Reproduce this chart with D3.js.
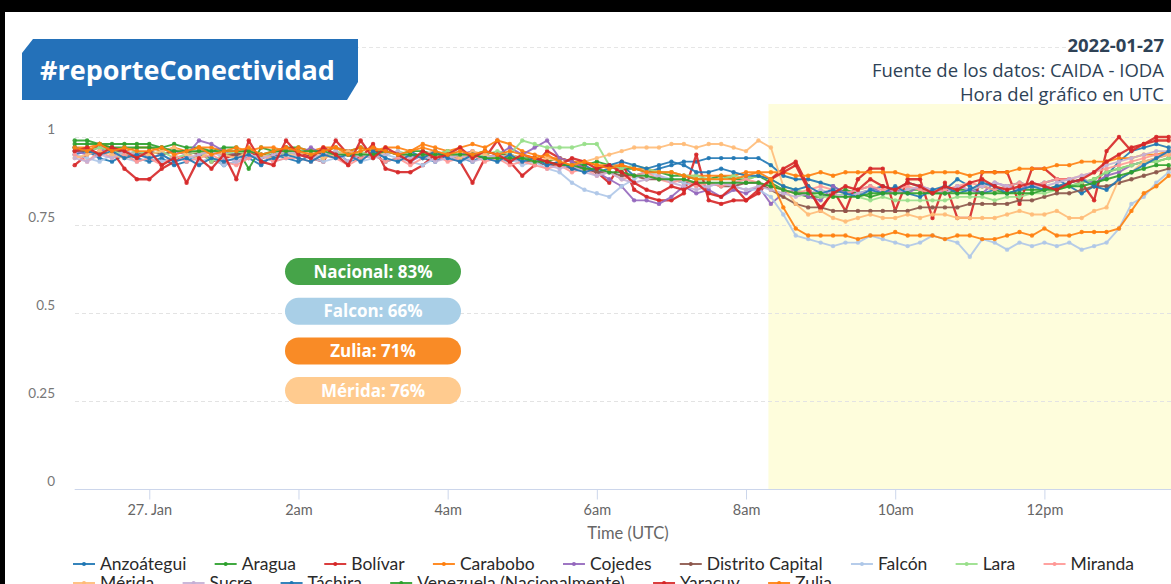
<!DOCTYPE html>
<html><head><meta charset="utf-8">
<script src="https://cdn.jsdelivr.net/npm/d3@7"></script>
<style>html,body{margin:0;padding:0;background:#000;overflow:hidden}</style>
</head><body><svg id="c" width="1171" height="584"></svg>
<script>
// ---------- DATA (values in percent, 10-minute bins from 2022-01-26 23:00 UTC) ----------
const seriesNames = ["Anzoátegui","Aragua","Bolívar","Carabobo","Cojedes","Distrito Capital","Falcón","Lara","Miranda","Mérida","Sucre","Táchira","Venezuela (Nacionalmente)","Yaracuy","Zulia"];
const seriesColors = ["#1f77b4","#2ca02c","#d62728","#ff7f0e","#9467bd","#8c564b","#aec7e8","#98df8a","#ff9896","#ffbb78","#c5b0d5","#1f77b4","#2ca02c","#d62728","#ff7f0e"];

const anzoategui = [95,96,94,93,95,94, 93,94,92,93,95,94,92,93,94,92,95,94, 93,95,94,96,93,94,95,93,94,96,94,93, 95,94,93,95,94,93, 94,93,92,93,91,92,90,91,92,89,90,91, 92,93,93,94,94,94,94,94, 92,89,88,88,87,86,84,84,85,86, 85,87,86,84,85,88,86,84,85,86,87,86, 87,88,86,84,86,89,93,96,97,98,97];
const aragua = [99,99,98,98,98,98, 98,97,98,97,97,96,97,97,91,97,96,97, 97,96,96,97,96,97,96,96,95,96,96,95, 96,95,95,96,95,95, 94,94,93,94,93,92,93,92,91,91,90,90, 89,89,88,88,89,88,88,89, 87,85,84,83,83,84,85,84,83,84, 84,85,85,84,84,85,85,86,85,84,85,85, 85,86,86,87,88,90,91,92,93,93,94];
const bolivar = [92,95,98,96,91,88, 88,91,93,95,96,93,94,95,96,94,95,97, 96,94,93,99,95,94,98,91,90,90,92,95, 95,93,87,94,99,93, 89,92,96,94,93,91,90,87,93,85,83,82, 82,84,95,82,81,82,82,84, 88,91,93,86,79,85,79,88,91,91, 79,88,88,77,87,77,77,90,90,90,81,91, 91,88,88,87,82,96,100,96,98,100,100];
const carabobo = [97,97,98,97,96,97, 97,96,97,96,97,97,96,97,96,97,97,96, 97,96,97,97,96,97,96,97,97,96,98,97, 96,97,98,97,99,98, 96,95,94,94,93,93,92,92,92,91,91,90, 90,89,89,89,89,89,90,90, 90,90,89,89,90,89,90,90,90,90, 90,89,89,90,90,90,89,90,90,90,91,91, 91,92,92,93,93,93,94,94,95,95,96];
const cojedes = [96,95,96,97,95,96, 94,95,96,95,99,98,96,95,94,95,93,96, 95,97,95,94,96,95,94,96,95,93,95,96, 94,95,96,94,95,97, 95,97,99,94,93,91,90,88,86,82,82,81, 83,86,84,85,83,85,84,86, 81,84,85,83,82,86,84,85,86,84, 85,84,86,85,84,86,85,84,87,86,85,87, 86,85,87,88,87,89,90,92,93,94,95];
const distritoCapital = [96,96,97,96,96,95, 96,95,96,96,95,96,95,95,96,95,95,96, 95,96,95,95,96,95,95,96,95,95,94,95, 95,94,95,94,94,94, 93,93,92,92,91,91,90,90,89,89,88,88, 88,87,87,87,86,86,87,87, 85,83,81,80,80,79,79,79,79,79, 79,79,80,80,80,80,81,81,81,81,82,82, 83,84,84,85,86,86,87,88,89,90,91];
const falcon = [95,94,93,95,94,93, 94,93,94,95,93,94,92,93,94,95,93,94, 95,94,93,94,95,93,94,95,94,93,92,94, 95,93,94,95,93,94, 92,93,91,90,87,85,84,83,86,88,90,89, 88,87,86,86,87,86,85,85, 83,78,72,71,70,69,70,70,72,71, 70,69,70,72,71,70,66,71,70,68,70,69, 70,69,70,68,69,70,74,81,83,87,90];
const lara = [97,96,97,96,95,96, 95,96,94,95,96,93,95,96,95,94,96,95, 96,95,94,96,95,96,94,95,96,95,94,95, 96,95,94,95,96,95, 99,98,97,97,97,98,98,92,91,92,91,90, 90,89,89,88,88,89,88,89, 88,86,85,84,83,83,84,83,82,83, 82,82,82,82,82,83,83,83,82,83,83,84, 84,85,86,87,88,90,91,92,93,93,94];
const miranda = [95,93,96,94,95,93, 94,92,95,93,94,95,93,92,94,95,93,94, 94,93,95,94,92,94,95,93,94,92,94,95, 93,94,95,93,94,92, 93,92,91,92,90,91,89,90,88,89,90,88, 87,88,86,87,86,87,88,87, 86,85,84,85,86,85,84,85,86,85, 85,86,85,84,85,86,87,86,85,86,87,86, 87,88,88,89,90,91,92,93,94,95,95];
const merida = [94,95,96,95,94,95, 95,96,97,95,94,96,95,94,96,95,94,95, 95,96,94,95,96,95,94,96,95,94,95,96, 95,94,96,95,94,95, 94,93,94,93,92,93,94,95,96,97,97,97, 98,98,97,98,98,97,96,99, 97,86,81,78,79,77,76,77,78,77, 77,78,77,78,78,77,77,77,77,78,79,78, 78,79,77,77,79,80,88,90,93,94,95];
const sucre = [94,93,95,94,96,95, 94,95,93,94,95,96,94,93,95,94,95,96, 95,94,95,96,93,95,94,95,96,94,95,93, 94,95,93,94,95,94, 93,94,92,91,92,90,89,90,88,87,88,89, 87,86,85,86,87,86,85,86, 85,84,83,84,85,84,83,84,85,84, 84,85,86,85,84,86,85,86,87,86,85,86, 86,87,88,89,90,92,93,94,95,96,96];
const tachira = [97,96,95,96,94,95, 94,95,93,94,92,94,93,94,95,93,94,95, 94,93,95,94,95,93,96,94,93,95,94,96, 94,93,95,94,93,95, 93,94,92,93,91,90,91,92,93,92,91,92, 93,92,90,90,91,90,89,89, 88,86,85,86,84,85,84,83,85,84, 86,84,83,85,86,84,85,87,86,84,85,86, 85,86,87,88,86,85,88,90,92,94,96];
const venezuela = [98,98,98,97,97,97, 97,97,96,96,96,96,96,96,96,95,96,96, 96,96,96,95,95,95,95,96,95,95,95,95, 95,95,95,94,94,94, 94,93,93,92,92,91,91,90,90,89,89,88, 88,88,87,87,87,87,87,87, 86,85,84,84,84,83,83,83,84,84, 84,84,84,84,84,84,84,84,84,84,84,84, 85,85,86,86,87,88,89,90,91,92,92];
const yaracuy = [96,97,95,97,96,94, 96,92,94,87,94,91,95,88,99,93,92,99, 95,94,97,95,92,99,94,97,95,93,96,94, 95,97,94,96,95,93, 95,94,93,92,94,93,91,92,90,87,85,84, 86,85,87,84,83,86,82,85, 88,90,92,85,80,84,86,85,88,86, 85,87,86,84,86,85,87,88,86,85,86,87, 86,85,87,88,90,93,95,97,98,99,99];
const zulia = [97,96,98,96,97,96, 96,97,95,96,97,95,96,96,97,95,96,97, 96,95,96,97,95,96,97,96,95,96,97,96, 95,96,95,96,95,96, 95,94,95,93,92,93,92,91,92,91,90,90, 90,89,88,88,88,88,89,90, 88,80,74,72,72,72,72,71,72,72, 73,72,72,72,71,72,72,71,71,72,73,72, 74,72,72,73,73,73,74,79,84,86,89];

const yTicks = [0, 0.25, 0.5, 0.75, 1];
const yTickLabels = ["0", "0.25", "0.5", "0.75", "1"];
const xTickHours = [0, 2, 4, 6, 8, 10, 12];
const xTickLabels = ["27. Jan", "2am", "4am", "6am", "8am", "10am", "12pm"];
const legendNames = seriesNames;
const pillLabels = ["Nacional: 83%", "Falcon: 66%", "Zulia: 71%", "Mérida: 76%"];
const pillColors = ["#46a449", "#a9cfe7", "#f98b26", "#ffcb8f"];
const headerLines = ["2022-01-27", "Fuente de los datos: CAIDA - IODA", "Hora del gráfico en UTC"];
const titleText = "#reporteConectividad";

const seriesValues = [anzoategui, aragua, bolivar, carabobo, cojedes, distritoCapital, falcon, lara, miranda, merida, sucre, tachira, venezuela, yaracuy, zulia];
const startTime = Date.UTC(2022, 0, 26, 23, 0);
const stepMs = 10 * 60 * 1000;
const bandStart = Date.UTC(2022, 0, 27, 8, 18);

// ---------- DRAW ----------
const svg = d3.select("#c");
svg.append("rect").attr("x", 5).attr("y", 12).attr("width", 1166).attr("height", 572).attr("fill", "#fff");

const x = d3.scaleUtc().domain([startTime, Date.UTC(2022, 0, 27, 13, 42)]).range([74.7, 1171.2]);
const y = d3.scaleLinear().domain([0, 1.09375]).range([489, 104]);

// header dashed line
svg.append("line").attr("x1", 75).attr("x2", 1066).attr("y1", 47.5).attr("y2", 47.5)
  .attr("stroke", "#e6e6e6").attr("stroke-dasharray", "4,3");

// plot band
svg.append("rect").attr("x", x(bandStart)).attr("y", y.range()[1])
  .attr("width", 1171 - x(bandStart)).attr("height", y(0) - y.range()[1]).attr("fill", "#fefddc");

// gridlines
svg.append("g").selectAll("line").data(yTicks.filter(d => d > 0)).join("line")
  .attr("x1", 75).attr("x2", 1171).attr("y1", d => Math.round(y(d)) + 0.5).attr("y2", d => Math.round(y(d)) + 0.5)
  .attr("stroke", "#e3e3e3").attr("stroke-dasharray", "4,3");

// y axis labels
const yAxis = d3.axisLeft(y).tickValues(yTicks).tickFormat((d, i) => yTickLabels[i]).tickSize(0).tickPadding(0);
const gy = svg.append("g").attr("transform", "translate(55,-8)").call(yAxis);
gy.select(".domain").remove();
gy.selectAll("text").attr("fill", "#777").style("font", "13.5px Lato");

// x axis
const xTickTimes = xTickHours.map(h => Date.UTC(2022, 0, 27, h, 0));
const xAxis = d3.axisBottom(x).tickValues(xTickTimes).tickFormat((d, i) => xTickLabels[i]).tickSize(10).tickPadding(5);
const gx = svg.append("g").attr("transform", "translate(0,489.5)").call(xAxis);
gx.select(".domain").attr("stroke", "#ccd6eb").attr("d", `M74.7,0H1171`);
gx.selectAll(".tick line").attr("stroke", "#ccd6eb");
gx.selectAll("text").attr("fill", "#666").style("font", "14.5px Lato");

svg.append("text").attr("x", 628).attr("y", 539).attr("text-anchor", "middle")
  .attr("fill", "#666").style("font", "16.5px Lato").text("Time (UTC)");

// series
svg.append("clipPath").attr("id", "plotclip").append("rect").attr("x", 70).attr("y", 95).attr("width", 1101).attr("height", 400);
const plot = svg.append("g").attr("clip-path", "url(#plotclip)");
const line = d3.line().x((d, i) => x(startTime + i * stepMs)).y(d => y(d / 100));
seriesValues.forEach((vals, k) => {
  const g = plot.append("g");
  const thick = seriesColors[k] === "#d62728" ? 2.3 : 1.9;
  g.append("path").attr("d", line(vals)).attr("fill", "none").attr("stroke", seriesColors[k])
    .attr("stroke-width", thick).attr("stroke-linejoin", "round").attr("opacity", 0.9);
  g.selectAll("circle").data(vals).join("circle")
    .attr("cx", (d, i) => x(startTime + i * stepMs)).attr("cy", d => y(d / 100)).attr("r", 2.2)
    .attr("fill", seriesColors[k]).attr("opacity", 0.9);
});

// pills
const pillG = svg.append("g");
pillLabels.forEach((lab, i) => {
  const cy = 271.5 + i * 39.7;
  pillG.append("rect").attr("x", 285).attr("y", cy - 13.5).attr("width", 176).attr("height", 27)
    .attr("rx", 13.5).attr("fill", pillColors[i]);
  pillG.append("text").attr("x", 373).attr("y", cy + 6).attr("text-anchor", "middle")
    .attr("fill", "#fff").style("font", "bold 17px 'Open Sans'").text(lab);
});

// title box
svg.append("path").attr("d", "M33,39H358V82L347,100H22V53Z").attr("fill", "#2471b9");
svg.append("text").attr("x", 40).attr("y", 80).attr("fill", "#fff")
  .style("font", "bold 27px 'Open Sans'").text(titleText);

// header right
headerLines.forEach((t, i) => {
  svg.append("text").attr("x", 1164).attr("y", [52, 77, 101][i]).attr("text-anchor", "end")
    .attr("fill", "#2e4256").style("font", (i === 0 ? "bold " : "") + "18.5px 'Open Sans'").text(t);
});

// legend
const leg = svg.append("g");
let lx = 73, ly = 564;
legendNames.forEach((name, k) => {
  const item = leg.append("g");
  const txt = item.append("text").attr("x", 27).attr("y", 6).attr("fill", "#2a2a2a")
    .style("font", "17.5px Lato").text(name);
  const w = 27 + txt.node().getComputedTextLength();
  if (lx + w > 1165) { lx = 73; ly += 19; }
  item.attr("transform", `translate(${lx},${ly})`);
  item.append("line").attr("x1", 0).attr("x2", 22).attr("y1", 0).attr("y2", 0)
    .attr("stroke", seriesColors[k]).attr("stroke-width", 1.8);
  item.append("circle").attr("cx", 11).attr("cy", 0).attr("r", 2).attr("fill", seriesColors[k]);
  lx += w + 28.3;
});
</script></body></html>
